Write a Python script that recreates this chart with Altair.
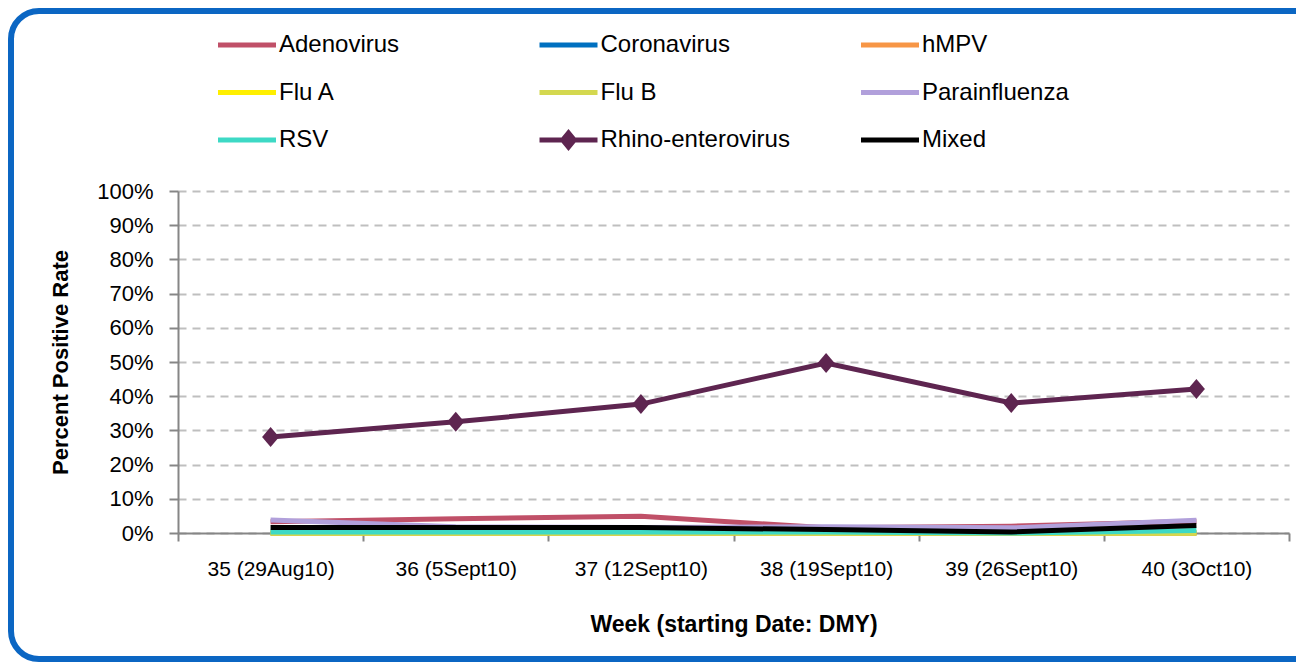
import altair as alt
import pandas as pd

weeks = ["35 (29Aug10)", "36 (5Sept10)", "37 (12Sept10)", "38 (19Sept10)", "39 (26Sept10)", "40 (3Oct10)"]
series_names = ["Adenovirus", "Coronavirus", "hMPV", "Flu A", "Flu B",
                "Parainfluenza", "RSV", "Rhino-enterovirus", "Mixed"]

adenovirus = [3.3, 4.2, 4.9, 1.5, 2.0, 3.4]
coronavirus = [0.0, 0.0, 0.0, 0.0, 0.0, 0.0]
hmpv = [0.0, 0.0, 0.0, 0.0, 0.0, 0.0]
flu_a = [0.0, 0.0, 0.0, 0.0, 0.0, 0.0]
flu_b = [0.0, 0.0, 0.0, 0.0, 0.0, 0.0]
parainfluenza = [3.8, 1.8, 1.6, 1.8, 1.5, 3.7]
rsv = [0.3, 0.3, 0.3, 0.3, 0.0, 0.7]
rhino = [28.1, 32.5, 37.7, 49.7, 38.0, 42.1]
mixed = [1.6, 1.6, 1.6, 1.0, 0.3, 2.2]

colors = ["#C05068", "#0070C0", "#F79646", "#FFEF00", "#D4D84F",
          "#B1A0DB", "#3DD9C5", "#5E2550", "#000000"]

series_values = [adenovirus, coronavirus, hmpv, flu_a, flu_b,
                 parainfluenza, rsv, rhino, mixed]

rows = []
for name, vals in zip(series_names, series_values):
    for w, v in zip(weeks, vals):
        rows.append({"series": name, "week": w, "value": v})
df = pd.DataFrame(rows)

FONT = "Liberation Sans"
LINE_PATH = "M-1,-0.086L1,-0.086L1,0.086L-1,0.086Z"
RHINO_PATH = LINE_PATH + "M0,-0.38L0.31,0L0,0.38L-0.31,0Z"
shapes = [LINE_PATH] * 7 + [RHINO_PATH, LINE_PATH]
DIAMOND = "M0,-1L0.85,0L0,1L-0.85,0Z"

W, H = 1111, 342

x_enc = alt.X(
    "week:O", sort=weeks, bandPosition=0.5,
    scale=alt.Scale(type="band", domain=weeks, paddingInner=0, paddingOuter=0),
    axis=alt.Axis(
        title="Week (starting Date: DMY)", titleFont=FONT, titleFontSize=23,
        titleFontWeight="bold", titleColor="#000000", titleY=91, titleBaseline="middle",
        labelAngle=0, labelFont=FONT, labelFontSize=21, labelColor="#000000",
        labelPadding=17, tickSize=8, tickWidth=2, tickColor="#868686",
        domainColor="#868686", domainWidth=2, tickBand="extent", grid=False,
    ),
)
y_enc = alt.Y(
    "value:Q",
    scale=alt.Scale(domain=[0, 100], nice=False),
    axis=alt.Axis(
        values=list(range(0, 101, 10)), labelExpr="datum.value + '%'",
        title="Percent Positive Rate", titleFont=FONT, titleFontSize=22,
        titleFontWeight="bold", titleColor="#000000",
        titleX=-118, titleY=171, titleAngle=270, titleBaseline="middle", titleAlign="center",
        labelFont=FONT, labelFontSize=22, labelColor="#000000", labelPadding=16,
        tickSize=9, tickWidth=2, tickColor="#868686", domainColor="#868686", domainWidth=2,
        grid=True, gridDash=[8, 6], gridColor="#BFBFBF", gridWidth=2,
    ),
)

color_scale = alt.Scale(domain=series_names, range=colors)

legend = alt.Legend(
    orient="none", legendX=40, legendY=-175, direction="horizontal", columns=3,
    title=None, symbolSize=3364, symbolStrokeWidth=0, symbolOpacity=1,
    labelFont=FONT, labelFontSize=24, labelColor="#000000", labelOffset=3, labelLimit=400,
    columnPadding=70.5, rowPadding=6.5, gridAlign="all", padding=0,
)

base = alt.Chart(df)

lines = base.mark_line(strokeWidth=5).encode(
    x=x_enc, y=y_enc,
    color=alt.Color("series:N", scale=color_scale, legend=None),
)

legend_layer = base.mark_point(filled=True, opacity=0).encode(
    x=x_enc, y=y_enc,
    color=alt.Color("series:N", scale=color_scale, legend=legend),
    shape=alt.Shape("series:N", scale=alt.Scale(domain=series_names, range=shapes), legend=legend),
)

markers = base.transform_filter(
    alt.datum.series == "Rhino-enterovirus"
).mark_point(filled=True, shape=DIAMOND, size=400, opacity=1, color="#5E2550", strokeWidth=0).encode(
    x=x_enc, y=y_enc,
)

border = alt.Chart(pd.DataFrame({"b": [0]})).mark_rect(
    fillOpacity=0, stroke="#0B66C3", strokeWidth=6, cornerRadius=28,
).encode(
    x=alt.value(-167), x2=alt.value(W + 40), y=alt.value(-180), y2=alt.value(468),
)

chart = alt.layer(border, lines, legend_layer, markers).resolve_legend(
    color="independent", shape="independent"
).properties(
    width=W, height=H,
    padding={"left": 170, "top": 183, "right": 7, "bottom": 129},
    autosize=alt.AutoSizeParams(type="none"),
    background="#FFFFFF",
).configure_view(stroke=None)

chart.save("out.html", embed_options={"renderer": "svg", "actions": False})
